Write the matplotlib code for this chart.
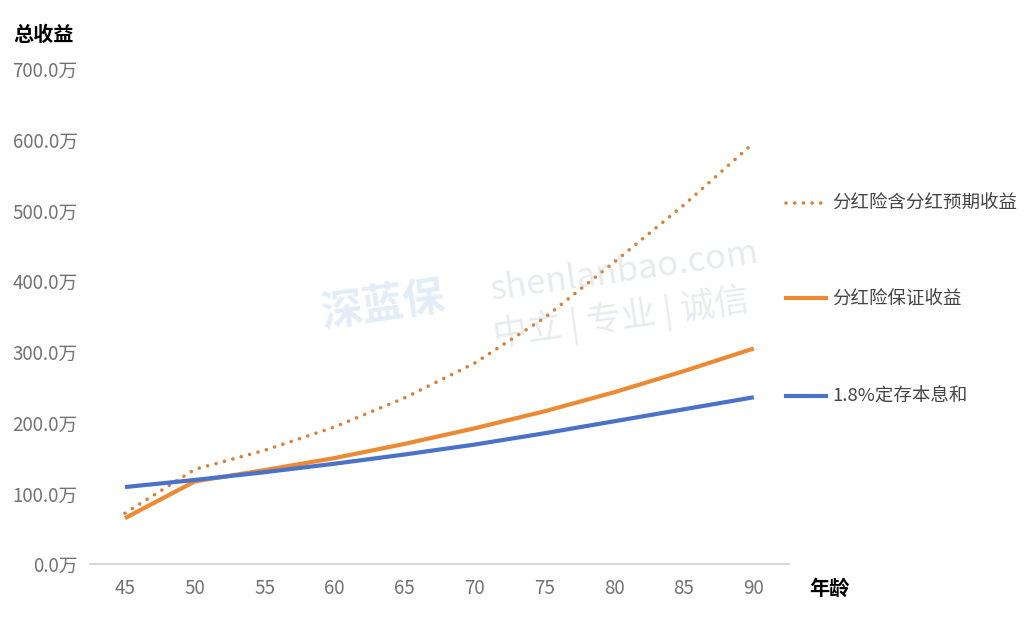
import numpy as np
import matplotlib.pyplot as plt

plt.rcParams['font.family'] = ['Noto Sans CJK SC', 'DejaVu Sans']

# ages and totals (unit: 万)
ages = [45, 50, 55, 60, 65, 70, 75, 80, 85, 90]
dividend_expected = [72, 134, 161, 194, 235, 284, 348, 427, 508, 596]
dividend_guaranteed = [65, 117, 133, 150, 170, 192, 216, 243, 273, 305]
deposit_18 = [109, 119, 130, 142, 155, 169, 185, 202, 219, 236]

labels = ['分红险含分红预期收益', '分红险保证收益', '1.8%定存本息和']
yticks = [0, 100, 200, 300, 400, 500, 600, 700]

fig = plt.figure(figsize=(10.35, 6.24), dpi=100)
ax = fig.add_axes([0.087, 0.096, 0.675, 0.793])

c_dot = '#D9803A'
c_org = '#EC8A34'
c_blue = '#4a72c8'
dot_style = dict(color=c_dot, lw=2.6, linestyle=(0, (0.01, 2.4)), dash_capstyle='round')

ax.plot(ages, dividend_expected, label=labels[0], **dot_style)
ax.plot(ages, dividend_guaranteed, color=c_org, lw=3, solid_capstyle='butt', label=labels[1])
ax.plot(ages, deposit_18, color=c_blue, lw=3, solid_capstyle='butt', label=labels[2])

ax.set_xlim(42.5, 92.5)
ax.set_ylim(0, 700)
ax.set_xticks(ages)
ax.set_yticks(yticks)
ax.set_yticklabels(['%.1f万' % v for v in yticks])
ax.tick_params(axis='both', length=0, labelsize=13.5, colors='#727272')
ax.tick_params(axis='y', pad=9)
ax.tick_params(axis='x', pad=10)
for s in ['top', 'right', 'left']:
    ax.spines[s].set_visible(False)
ax.spines['bottom'].set_color('#d0d0d0')
ax.spines['bottom'].set_linewidth(1.2)

# watermark
fig.text(0.472, 0.565, 'shenlanbao.com', fontsize=25, color='#b4bcc8', alpha=0.3,
         rotation=8, ha='left', va='center')
fig.text(0.474, 0.49, '中立 | 专业 | 诚信', fontsize=25, color='#b4bcc8', alpha=0.3,
         rotation=8, ha='left', va='center')
fig.text(0.37, 0.51, '深蓝保', fontsize=30, fontweight='bold', color='#9fc3e8', alpha=0.3,
         rotation=8, ha='center', va='center')

fig.text(0.013, 0.945, '总收益', fontsize=14.5, fontweight='bold', ha='left', va='center')
fig.text(0.782, 0.057, '年龄', fontsize=14.5, fontweight='bold', ha='left', va='center')

# legend on the right, spaced as in the original
leg_y = [0.675, 0.522, 0.365]
styles = [dot_style, dict(color=c_org, lw=3), dict(color=c_blue, lw=3)]
for lab, yy, st in zip(labels, leg_y, styles):
    fig.add_artist(plt.Line2D([0.759, 0.798], [yy, yy], transform=fig.transFigure, **st))
    fig.text(0.804, yy, lab, fontsize=13.3, color='#444444', ha='left', va='center')

fig.savefig('out.png', dpi=100)
